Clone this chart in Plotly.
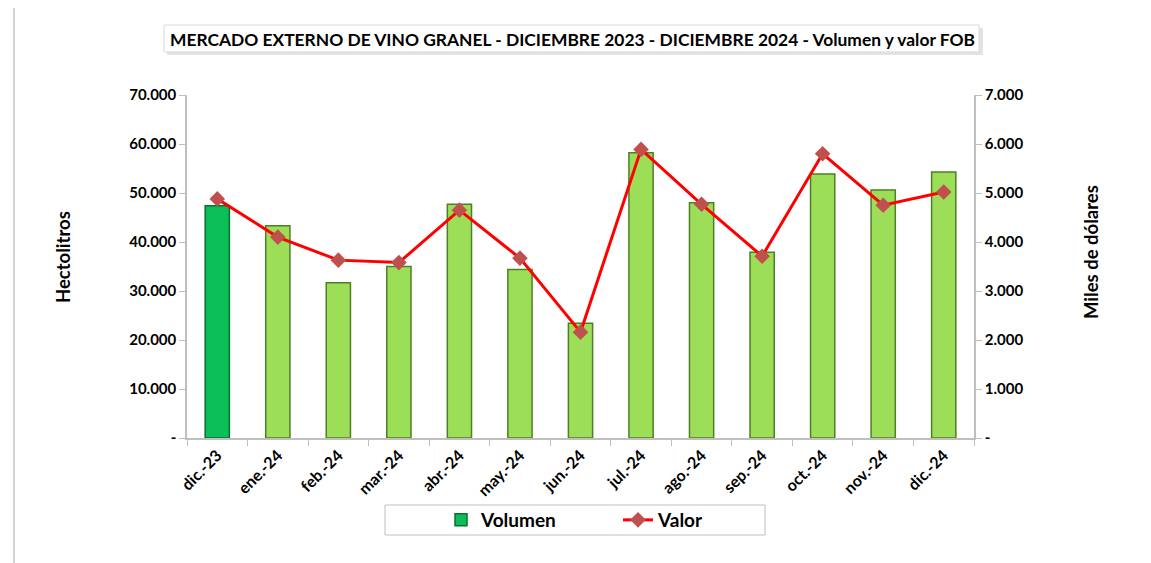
import plotly.graph_objects as go

categories = ["dic.-23", "ene.-24", "feb.-24", "mar.-24", "abr.-24", "may.-24", "jun.-24",
              "jul.-24", "ago.-24", "sep.-24", "oct.-24", "nov.-24", "dic.-24"]
volumen = [47400, 43300, 31700, 35000, 47700, 34400, 23400, 58200, 48000, 37900, 53900, 50600, 54300]
valor = [4880, 4100, 3630, 3580, 4650, 3670, 2160, 5890, 4770, 3710, 5800, 4750, 5020]

left_ticks = [0, 10000, 20000, 30000, 40000, 50000, 60000, 70000]
left_labels = ["-", "10.000", "20.000", "30.000", "40.000", "50.000", "60.000", "70.000"]
right_ticks = [0, 1000, 2000, 3000, 4000, 5000, 6000, 7000]
right_labels = ["-", "1.000", "2.000", "3.000", "4.000", "5.000", "6.000", "7.000"]

FONT = "Lato"
W, H = 1151, 563
OFF = 7  # page offset of the plot div inside the browser window
L, R, T, B = 186 - OFF, 973 - OFF, 94 - OFF, 437 - OFF

def px(x):
    return (x - OFF - L) / (R - L)

def py(y):
    return (B - (y - OFF)) / (B - T)

bar_colors = ["#0BBE58"] + ["#9DDE58"] * (len(categories) - 1)
edge_colors = ["#0A6E35"] + ["#4E7F25"] * (len(categories) - 1)

fig = go.Figure()
fig.add_trace(go.Bar(
    x=categories, y=volumen, name="Volumen", width=0.4,
    marker=dict(color=bar_colors, line=dict(color=edge_colors, width=1.5)),
    yaxis="y",
))
fig.add_trace(go.Scatter(
    x=categories, y=valor, name="Valor", mode="lines+markers",
    line=dict(color="#FF0000", width=3),
    marker=dict(symbol="diamond", size=12, color="#C0504D"),
    yaxis="y2",
))

tickfont = dict(family=FONT, size=15, color="#000000", weight="bold")
titlefont = dict(family=FONT, size=18.5, color="#000000", weight="bold")

fig.update_layout(
    width=W, height=H,
    margin=dict(l=L, r=W - R, t=T, b=H - B, autoexpand=False),
    paper_bgcolor="white", plot_bgcolor="white",
    showlegend=True,
    legend=dict(
        orientation="h", x=px(440), xanchor="left", y=py(519), yanchor="middle",
        borderwidth=0, bgcolor="rgba(0,0,0,0)",
        font=dict(family=FONT, size=19, color="#000000", weight="bold"),
        entrywidth=132, itemwidth=30,
    ),
    xaxis=dict(
        type="category", showline=True, linecolor="#BFBFBF", linewidth=1.5,
        ticks="outside", tickson="boundaries", ticklen=6, tickcolor="#BFBFBF",
        tickangle=-45, tickfont=dict(family=FONT, size=16, color="#000000", weight="bold"),
        showgrid=False, range=[-0.5, len(categories) - 0.5], automargin=False,
    ),
    yaxis=dict(
        range=[0, 70000], tickvals=left_ticks, ticktext=left_labels,
        showline=True, linecolor="#BFBFBF", linewidth=1.5,
        ticks="outside", ticklen=6, tickcolor="#BFBFBF",
        tickfont=tickfont, showgrid=False, zeroline=False, automargin=False,
    ),
    yaxis2=dict(
        range=[0, 7000], tickvals=right_ticks, ticktext=right_labels,
        overlaying="y", side="right",
        showline=True, linecolor="#BFBFBF", linewidth=1.5,
        ticks="outside", ticklen=6, tickcolor="#BFBFBF",
        tickfont=tickfont, showgrid=False, zeroline=False, automargin=False,
    ),
)

# outer chart frame (left and top edges visible)
fig.add_shape(type="line", xref="paper", yref="paper",
              x0=px(13), x1=px(13), y0=py(570), y1=py(4),
              line=dict(color="#A6A6A6", width=1), layer="below")
fig.add_shape(type="line", xref="paper", yref="paper",
              x0=px(13), x1=px(1160), y0=py(4), y1=py(4),
              line=dict(color="#A6A6A6", width=1), layer="below")
# title box shadow + box
fig.add_shape(type="rect", xref="paper", yref="paper",
              x0=px(166), x1=px(982), y0=py(54), y1=py(27),
              line=dict(width=0), fillcolor="#E3E3E3", layer="below")
fig.add_shape(type="rect", xref="paper", yref="paper",
              x0=px(163), x1=px(978), y0=py(51), y1=py(24),
              line=dict(color="#D9D9D9", width=1), fillcolor="white", layer="below")
# legend box
fig.add_shape(type="rect", xref="paper", yref="paper",
              x0=px(384), x1=px(764), y0=py(534), y1=py(504),
              line=dict(color="#BFBFBF", width=1), fillcolor="white", layer="below")
fig.add_annotation(
    text="<b>MERCADO EXTERNO DE VINO GRANEL - DICIEMBRE 2023 - DICIEMBRE 2024 - Volumen y valor FOB</b>",
    xref="paper", yref="paper", x=px(571), y=py(38), xanchor="center", yanchor="middle",
    showarrow=False, font=dict(family=FONT, size=17.4, color="#000000"),
)
# axis titles
fig.add_annotation(
    text="Hectolitros", textangle=-90,
    xref="paper", yref="paper", x=px(62), y=py(256), xanchor="center", yanchor="middle",
    showarrow=False, font=titlefont,
)
fig.add_annotation(
    text="Miles de dólares", textangle=-90,
    xref="paper", yref="paper", x=px(1090), y=py(251), xanchor="center", yanchor="middle",
    showarrow=False, font=titlefont,
)

fig.write_html("out.html")
